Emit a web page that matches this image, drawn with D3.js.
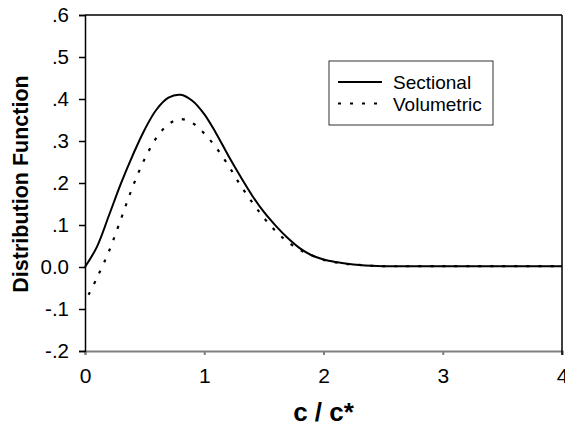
<!DOCTYPE html>
<html>
<head>
<meta charset="utf-8">
<script src="https://cdn.jsdelivr.net/npm/d3@7"></script>
<style>
  body { margin: 0; background: #fff; }
  text { font-family: "Liberation Sans", Arial, sans-serif; }
</style>
</head>
<body>
<div id="chart"></div>
<script>
// values
const sectionalX = [0, 0.1, 0.2, 0.3, 0.4, 0.5, 0.6, 0.7, 0.8, 0.9, 1.0, 1.1, 1.2, 1.3, 1.4, 1.5, 1.6, 1.7, 1.8, 1.9, 2.0, 2.1, 2.2, 2.3, 2.4, 2.5, 3.0, 3.5, 4.0];
const sectionalY = [0, 0.048, 0.122, 0.198, 0.266, 0.327, 0.375, 0.403, 0.41, 0.396, 0.364, 0.318, 0.266, 0.217, 0.171, 0.131, 0.098, 0.069, 0.045, 0.028, 0.018, 0.012, 0.008, 0.005, 0.003, 0.002, 0.002, 0.002, 0.002];

const volumetricX = [0.03, 0.1, 0.2, 0.3, 0.4, 0.5, 0.6, 0.7, 0.8, 0.9, 1.0, 1.1, 1.2, 1.3, 1.4, 1.5, 1.6, 1.7, 1.8, 1.9, 2.0, 2.1, 2.2, 2.3, 2.4, 2.5, 3.0, 3.5, 4.0];
const volumetricY = [-0.066, -0.026, 0.037, 0.113, 0.191, 0.257, 0.308, 0.34, 0.352, 0.343, 0.318, 0.284, 0.243, 0.196, 0.155, 0.117, 0.085, 0.06, 0.041, 0.028, 0.017, 0.011, 0.007, 0.005, 0.003, 0.002, 0.002, 0.002, 0.002];

const xTicks = [0, 1, 2, 3, 4];
const yTicks = [-0.2, -0.1, 0, 0.1, 0.2, 0.3, 0.4, 0.5, 0.6];
const yTickLabels = ["-.2", "-.1", "0.0", ".1", ".2", ".3", ".4", ".5", ".6"];

const width = 565;
const height = 426;

const svg = d3.select("#chart")
  .append("svg")
  .attr("width", width)
  .attr("height", height);

const x = d3.scaleLinear().domain([0, 4]).range([85, 562]);
const y = d3.scaleLinear().domain([-0.2, 0.6]).range([351, 15]);

// bottom axis (grey)
const xAxis = svg.append("g")
  .attr("transform", `translate(0, ${y(-0.2)})`)
  .call(d3.axisBottom(x).tickValues(xTicks).tickSize(4).tickPadding(13).tickFormat(d3.format("d")));
xAxis.select(".domain").attr("stroke", "#808080").attr("stroke-width", 2);
xAxis.selectAll(".tick line").attr("stroke", "#808080").attr("stroke-width", 2);
xAxis.selectAll(".tick text")
  .attr("fill", "#000")
  .style("font-size", "21px");

// left axis
const yAxis = svg.append("g")
  .attr("transform", `translate(${x(0)}, 0)`)
  .call(d3.axisLeft(y).tickValues(yTicks).tickSize(6).tickPadding(10)
    .tickFormat((d, i) => yTickLabels[i]));
yAxis.select(".domain").attr("stroke", "#000").attr("stroke-width", 1.5);
yAxis.selectAll(".tick line").attr("stroke", "#000").attr("stroke-width", 1.5);
yAxis.selectAll(".tick text")
  .attr("fill", "#000")
  .style("font-size", "20.5px");

// frame top and right
svg.append("line")
  .attr("x1", x(0)).attr("x2", x(4))
  .attr("y1", y(0.6)).attr("y2", y(0.6))
  .attr("stroke", "#000").attr("stroke-width", 1.5);
svg.append("line")
  .attr("x1", x(4)).attr("x2", x(4))
  .attr("y1", y(0.6)).attr("y2", y(-0.2) + 4)
  .attr("stroke", "#000").attr("stroke-width", 1.5);

const line = d3.line()
  .x(d => x(d[0]))
  .y(d => y(d[1]))
  .curve(d3.curveCatmullRom);

svg.append("path")
  .datum(d3.zip(sectionalX, sectionalY))
  .attr("d", line)
  .attr("fill", "none")
  .attr("stroke", "#000")
  .attr("stroke-width", 2);

svg.append("path")
  .datum(d3.zip(volumetricX, volumetricY))
  .attr("d", line)
  .attr("fill", "none")
  .attr("stroke", "#000")
  .attr("stroke-width", 2.2)
  .attr("stroke-dasharray", "3,9");

// axis titles
svg.append("text")
  .attr("x", (x(0) + x(4)) / 2)
  .attr("y", 421)
  .attr("text-anchor", "middle")
  .style("font-size", "26px")
  .style("font-weight", "bold")
  .text("c / c*");

svg.append("text")
  .attr("transform", `translate(28, ${y(0.2) + 1}) rotate(-90)`)
  .attr("text-anchor", "middle")
  .style("font-size", "21.5px")
  .style("font-weight", "bold")
  .text("Distribution Function");

// legend
const legend = svg.append("g");
legend.append("rect")
  .attr("x", 329).attr("y", 61)
  .attr("width", 164).attr("height", 64)
  .attr("fill", "#fff")
  .attr("stroke", "#333")
  .attr("stroke-width", 1);

const legendItems = [
  { name: "Sectional", dash: null },
  { name: "Volumetric", dash: "3,9" }
];
legendItems.forEach((item, i) => {
  const yy = 82 + i * 21.5;
  const l = legend.append("line")
    .attr("x1", 338).attr("x2", 382)
    .attr("y1", yy).attr("y2", yy)
    .attr("stroke", "#000")
    .attr("stroke-width", 2);
  if (item.dash) l.attr("stroke-dasharray", item.dash);
  legend.append("text")
    .attr("x", 393)
    .attr("y", yy + 7)
    .style("font-size", "19px")
    .text(item.name);
});
</script>
</body>
</html>
